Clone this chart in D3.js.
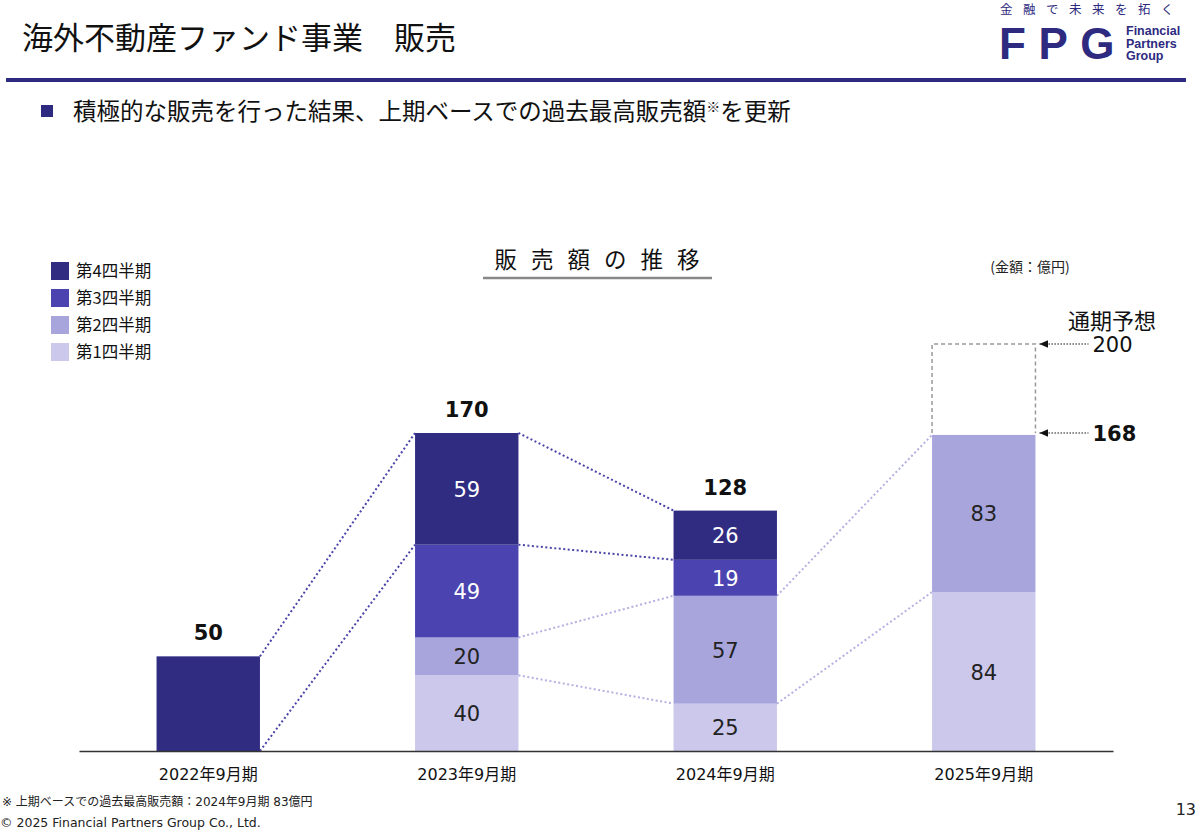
<!DOCTYPE html>
<html>
<head>
<meta charset="utf-8">
<script src="https://cdn.jsdelivr.net/npm/d3@7"></script>
<style>
  body { margin: 0; background: #fff; }
  svg { display: block; font-family: "DejaVu Sans", "Noto Sans CJK JP", sans-serif; }
</style>
</head>
<body>
<svg id="chart"></svg>
<script>
const years = ["2022年9月期", "2023年9月期", "2024年9月期", "2025年9月期"];
const quarters = ["第1四半期", "第2四半期", "第3四半期", "第4四半期"];
const q1 = [0, 40, 25, 84];
const q2 = [0, 20, 57, 83];
const q3 = [0, 49, 19, 0];
const q4 = [50, 59, 26, 0];
const totals = [50, 170, 128, 168];
const forecast = 200;
const colors = ["#cbc8eb", "#a8a5dd", "#4a43b0", "#302c82"];
const labelColors = ["#222", "#222", "#fff", "#fff"];

const width = 1200, height = 833;
const navy = "#2e2a80";

const svg = d3.select("#chart").attr("width", width).attr("height", height);

// header
svg.append("text").attr("x", 22).attr("y", 49)
  .attr("font-family", "Noto Sans CJK JP").attr("font-size", 31).attr("fill", "#111")
  .text("海外不動産ファンド事業　販売");
svg.append("rect").attr("x", 6).attr("y", 78).attr("width", 1180).attr("height", 4).attr("fill", navy);

svg.append("text").attr("x", 1000).attr("y", 14)
  .attr("font-family", "Noto Sans CJK JP").attr("font-size", 12.5).attr("letter-spacing", 10.5)
  .attr("fill", navy).text("金融で未来を拓く");
svg.append("text").attr("x", 999).attr("y", 59)
  .attr("font-family", "Liberation Sans").attr("font-weight", "bold").attr("font-size", 44)
  .attr("letter-spacing", 12.5).attr("fill", navy).text("FPG");
["Financial", "Partners", "Group"].forEach((t, i) => {
  svg.append("text").attr("x", 1126).attr("y", 35 + i * 12.5)
    .attr("font-family", "Liberation Sans").attr("font-weight", "bold").attr("font-size", 12.5)
    .attr("fill", navy).text(t);
});

svg.append("rect").attr("x", 41).attr("y", 105).attr("width", 12).attr("height", 12).attr("fill", navy);
const sub = svg.append("text").attr("x", 73).attr("y", 120)
  .attr("font-family", "Noto Sans CJK JP").attr("font-size", 23.5).attr("fill", "#111");
sub.append("tspan").text("積極的な販売を行った結果、上期ベースでの過去最高販売額");
sub.append("tspan").attr("font-size", 14).attr("dy", -8).text("※");
sub.append("tspan").attr("dy", 8).text("を更新");

// chart title
svg.append("text").attr("x", 604).attr("y", 268).attr("text-anchor", "middle")
  .attr("font-family", "Noto Sans CJK JP").attr("font-size", 22.5).attr("letter-spacing", 14)
  .attr("fill", "#111").text("販売額の推移");
svg.append("line").attr("x1", 483).attr("x2", 712).attr("y1", 278).attr("y2", 278)
  .attr("stroke", "#888").attr("stroke-width", 2.5);
svg.append("text").attr("x", 1030).attr("y", 272).attr("text-anchor", "middle")
  .attr("font-family", "Noto Sans CJK JP").attr("font-size", 14).attr("fill", "#222")
  .text("(金額：億円)");

// legend (top = Q4)
const legend = svg.append("g").attr("transform", "translate(51,262)");
quarters.slice().reverse().forEach((q, i) => {
  const g = legend.append("g").attr("transform", `translate(0,${i * 27})`);
  g.append("rect").attr("width", 18).attr("height", 18).attr("fill", colors[3 - i]);
  g.append("text").attr("x", 25).attr("y", 15).attr("font-family", "Noto Sans CJK JP")
    .attr("font-size", 16.5).attr("fill", "#111").text(q);
});

// scales
const x = d3.scaleBand().domain(years).range([79, 1113]).paddingInner(0.6).paddingOuter(0.3);
const y = d3.scaleLinear().domain([0, 168, 200]).range([751, 433, 344]);

const rows = years.map((yr, i) => ({ year: yr, q1: q1[i], q2: q2[i], q3: q3[i], q4: q4[i] }));
const keys = ["q1", "q2", "q3", "q4"];
const stack = d3.stack().keys(keys)(rows);
const stackTop = rows.map((r, i) => stack[3][i][1]);

// connectors between neighbouring bars (Q4 and Q2 segments)
const links = [];
[[3, "#4a44a8"], [1, "#b4b1e2"]].forEach(([k, c]) => {
  for (let i = 0; i < years.length - 1; i++) {
    const a = stack[k][i], b = stack[k][i + 1];
    if (a[1] - a[0] > 0 && b[1] - b[0] > 0) {
      [1, 0].forEach(e => links.push({ x1: x(years[i]) + x.bandwidth(), y1: y(a[e]), x2: x(years[i + 1]), y2: y(b[e]), c }));
    }
  }
});
svg.append("g").selectAll("line").data(links).join("line")
  .attr("x1", d => d.x1).attr("y1", d => d.y1).attr("x2", d => d.x2).attr("y2", d => d.y2)
  .attr("stroke", d => d.c).attr("stroke-width", 2).attr("stroke-dasharray", "2,2.5");

// bars
const layers = svg.append("g").selectAll("g").data(stack).join("g")
  .attr("fill", (d, i) => colors[i]);
layers.selectAll("rect").data(d => d.filter(s => s[1] - s[0] > 0)).join("rect")
  .attr("x", d => x(d.data.year)).attr("width", x.bandwidth())
  .attr("y", d => y(d[1])).attr("height", d => y(d[0]) - y(d[1]));

// segment labels only where a bar is split into quarters
const segCount = rows.map(r => keys.filter(k => r[k] > 0).length);
stack.forEach((layer, k) => {
  svg.append("g").selectAll("text")
    .data(layer.filter((s, i) => s[1] - s[0] > 0 && segCount[i] > 1)).join("text")
    .attr("x", d => x(d.data.year) + x.bandwidth() / 2)
    .attr("y", d => (y(d[0]) + y(d[1])) / 2 + 8)
    .attr("text-anchor", "middle").attr("font-size", 21).attr("fill", labelColors[k])
    .text(d => d[1] - d[0]);
});

// totals above bars (not for forecast year)
svg.append("g").selectAll("text").data(years.slice(0, 3)).join("text")
  .attr("x", d => x(d) + x.bandwidth() / 2)
  .attr("y", (d, i) => y(stackTop[i]) - 16)
  .attr("text-anchor", "middle").attr("font-size", 21).attr("font-weight", "bold").attr("fill", "#111")
  .text((d, i) => totals[i]);

// forecast box for last year
const last = years[3];
const bx0 = x(last), bx1 = x(last) + x.bandwidth();
svg.append("path")
  .attr("d", `M${bx0},${y(totals[3])}V${y(forecast)}H${bx1}V${y(totals[3])}`)
  .attr("fill", "none").attr("stroke", "#999").attr("stroke-width", 1.5).attr("stroke-dasharray", "4,3");

svg.append("defs").append("marker").attr("id", "arr").attr("viewBox", "0 0 10 10")
  .attr("refX", 0).attr("refY", 5).attr("markerWidth", 9).attr("markerHeight", 9)
  .attr("markerUnits", "userSpaceOnUse").attr("orient", "auto")
  .append("path").attr("d", "M0,5L10,0.5L10,9.5Z").attr("fill", "#111");

[forecast, totals[3]].forEach((v, i) => {
  svg.append("line").attr("x1", bx1 + 4).attr("x2", bx1 + 53).attr("y1", y(v)).attr("y2", y(v))
    .attr("stroke", "#111").attr("stroke-width", 1.2).attr("stroke-dasharray", "1.5,1.5")
    .attr("marker-start", "url(#arr)");
  svg.append("text").attr("x", bx1 + 57).attr("y", y(v) + 8).attr("font-size", 21)
    .attr("font-weight", i === 1 ? "bold" : "normal").attr("fill", "#111").text(v);
});
svg.append("text").attr("x", 1112).attr("y", 329).attr("text-anchor", "middle")
  .attr("font-family", "Noto Sans CJK JP").attr("font-size", 22).attr("fill", "#111").text("通期予想");

// x axis
const xAxis = svg.append("g").attr("transform", `translate(0,${y(0)})`)
  .call(d3.axisBottom(x).tickSize(0).tickPadding(18));
xAxis.select(".domain").attr("stroke", "#333").attr("stroke-width", 1.5);
xAxis.selectAll("text").attr("font-size", 16).attr("fill", "#111")
  .attr("font-family", "DejaVu Sans, Noto Sans CJK JP");

// footer
svg.append("text").attr("x", 2).attr("y", 806).attr("font-size", 12).attr("fill", "#222")
  .text("※ 上期ベースでの過去最高販売額：2024年9月期 83億円");
svg.append("text").attr("x", 0).attr("y", 827).attr("font-size", 12.5).attr("fill", "#222")
  .text("© 2025 Financial Partners Group Co., Ltd.");
svg.append("text").attr("x", 1196).attr("y", 815).attr("text-anchor", "end")
  .attr("font-size", 16).attr("fill", "#222").text("13");
</script>
</body>
</html>
